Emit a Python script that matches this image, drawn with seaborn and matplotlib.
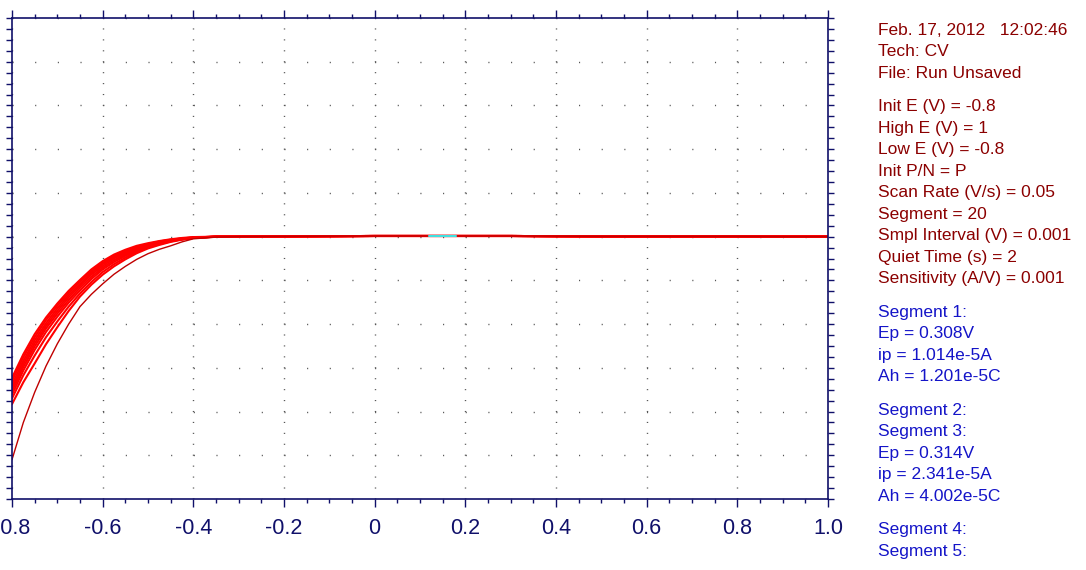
import numpy as np
import pandas as pd
import matplotlib
matplotlib.use("Agg")
import matplotlib.pyplot as plt
import seaborn as sns
from matplotlib.ticker import MultipleLocator

# ------------------------------------------------------------------
# data (potential in V, current in arbitrary units)
# ------------------------------------------------------------------
E_scan = [-0.800, -0.775, -0.750, -0.725, -0.700, -0.675, -0.650, -0.625,
          -0.600, -0.575, -0.550, -0.525, -0.500, -0.475, -0.450, -0.425,
          -0.400, -0.350, -0.300]

cyc_01 = [-32.3, -26.9, -22.3, -18.5, -15.3, -12.4, -9.9, -7.5, -5.6, -4.1,
          -3.0, -2.1, -1.5, -1.0, -0.6, -0.3, -0.1, 0.0, 0.0]
cyc_02 = [-33.0, -27.6, -23.0, -19.1, -15.8, -12.9, -10.3, -7.9, -6.0, -4.4,
          -3.3, -2.4, -1.7, -1.1, -0.7, -0.4, -0.2, 0.0, 0.0]
cyc_03 = [-33.8, -28.4, -23.7, -19.8, -16.4, -13.4, -10.8, -8.3, -6.3, -4.7,
          -3.5, -2.5, -1.8, -1.2, -0.8, -0.4, -0.2, 0.0, 0.0]
cyc_04 = [-34.6, -29.1, -24.4, -20.4, -17.0, -13.9, -11.2, -8.7, -6.7, -5.0,
          -3.8, -2.8, -2.0, -1.4, -0.9, -0.5, -0.2, 0.0, 0.0]
cyc_05 = [-35.3, -29.8, -25.1, -21.0, -17.6, -14.5, -11.7, -9.2, -7.1, -5.4,
          -4.1, -3.0, -2.2, -1.5, -1.0, -0.6, -0.3, 0.0, 0.0]
cyc_06 = [-36.1, -30.6, -25.9, -21.8, -18.3, -15.1, -12.3, -9.7, -7.5, -5.8,
          -4.4, -3.2, -2.3, -1.6, -1.0, -0.6, -0.3, 0.0, 0.0]
cyc_07 = [-37.0, -31.7, -27.2, -23.0, -19.4, -16.0, -13.0, -10.4, -8.1, -6.3,
          -4.8, -3.5, -2.5, -1.7, -1.1, -0.6, -0.3, 0.0, 0.0]
cyc_08 = [-38.3, -33.3, -29.0, -24.6, -20.7, -17.0, -13.7, -11.0, -8.7, -6.8,
          -5.2, -3.8, -2.7, -1.9, -1.2, -0.7, -0.3, -0.05, 0.0]
first_scan = [-51.0, -42.5, -35.6, -29.6, -24.5, -20.0, -16.0, -13.2, -10.8, -8.6,
              -6.8, -5.2, -3.9, -2.9, -2.1, -1.2, -0.5, -0.1, 0.0]

# flat part of every scan
E_flat = [-0.20, -0.10, 0.00, 0.10, 0.20, 0.30, 0.40, 0.50, 0.60, 0.70, 0.80, 0.90, 1.00]
i_flat = [0.05, 0.10, 0.15, 0.15, 0.15, 0.15, 0.10, 0.05, 0.05, 0.05, 0.05, 0.0, 0.0]

# small cyan piece near 0.15 V
E_cyan = [0.12, 0.18]
i_cyan = [0.25, 0.25]

x_ticks = [-0.8, -0.6, -0.4, -0.2, 0.0, 0.2, 0.4, 0.6, 0.8, 1.0]
x_labels = ["-0.8", "-0.6", "-0.4", "-0.2", "0", "0.2", "0.4", "0.6", "0.8", "1.0"]

info_groups = [
    ["Feb. 17, 2012   12:02:46", "Tech: CV", "File: Run Unsaved"],
    ["Init E (V) = -0.8", "High E (V) = 1", "Low E (V) = -0.8", "Init P/N = P",
     "Scan Rate (V/s) = 0.05", "Segment = 20", "Smpl Interval (V) = 0.001",
     "Quiet Time (s) = 2", "Sensitivity (A/V) = 0.001"],
    ["Segment 1:", "Ep = 0.308V", "ip = 1.014e-5A", "Ah = 1.201e-5C"],
    ["Segment 2:", "Segment 3:", "Ep = 0.314V", "ip = 2.341e-5A", "Ah = 4.002e-5C"],
    ["Segment 4:", "Segment 5:"],
]
info_colors = ["#8b0000", "#8b0000", "#1414c8", "#1414c8", "#1414c8"]

# ------------------------------------------------------------------
# long form table
# ------------------------------------------------------------------
cycles = [cyc_01, cyc_02, cyc_03, cyc_04, cyc_05, cyc_06, cyc_07, cyc_08]
rows = []
for k, c in enumerate(cycles):
    for e, i in zip(E_scan + E_flat, c + i_flat):
        rows.append({"E": e, "i": i, "cycle": k})
df = pd.DataFrame(rows)
df_first = pd.DataFrame({"E": E_scan + E_flat, "i": first_scan + i_flat})

# ------------------------------------------------------------------
# plot
# ------------------------------------------------------------------
sns.set_theme(style="white")
plt.rcParams["font.family"] = ["Liberation Sans", "DejaVu Sans"]
plt.rcParams["axes.unicode_minus"] = False

navy = "#10106a"
fig = plt.figure(figsize=(10.86, 5.70), dpi=100)
ax = fig.add_axes([12 / 1086, 71 / 570, 816 / 1086, 481 / 570])

sns.lineplot(data=df, x="E", y="i", units="cycle", estimator=None, sort=False,
             color="#ff0000", lw=1.5, ax=ax)
sns.lineplot(data=df_first, x="E", y="i", estimator=None, sort=False,
             color="#c00000", lw=1.0, ax=ax)
sns.lineplot(x=E_cyan, y=i_cyan, estimator=None, sort=False,
             color="#40e0e0", lw=1.5, ax=ax)

ax.set_xlim(-0.8, 1.0)
ax.set_ylim(-60, 50)
ax.set_xticks(x_ticks, x_labels)
ax.xaxis.set_minor_locator(MultipleLocator(0.05))
ax.yaxis.set_major_locator(MultipleLocator(10))
ax.yaxis.set_minor_locator(MultipleLocator(2.5))
ax.set_xlabel("")
ax.set_ylabel("")

# dotted grid: one dot per minor step
ax.grid(True, which="major", axis="y", color="#555555", lw=1.0,
        dashes=(0.8, 22.66 * 0.72 - 0.8))
ax.grid(True, which="major", axis="x", color="#555555", lw=1.0,
        dashes=(0.8, 10.93 * 0.72 - 0.8))
ax.set_axisbelow(True)

for s in ax.spines.values():
    s.set_color(navy)
    s.set_linewidth(1.2)

ax.tick_params(axis="x", which="major", direction="out", length=6, width=1,
               color=navy, top=True, bottom=True, labelsize=15.5,
               labelcolor=navy, pad=8)
ax.tick_params(axis="x", which="minor", direction="out", length=3, width=1,
               color=navy, top=True, bottom=True)
ax.tick_params(axis="y", which="both", direction="out", length=4.5, width=1,
               color=navy, left=True, right=True, labelleft=False)

# info text on the right
y = 28.5
for lines, col in zip(info_groups, info_colors):
    for line in lines:
        fig.text(878 / 1086, 1 - (y + 6.2) / 570, line, color=col,
                 fontsize=12.5, va="baseline", ha="left")
        y += 21.5
    y += 12

fig.savefig("out.png", dpi=100)
